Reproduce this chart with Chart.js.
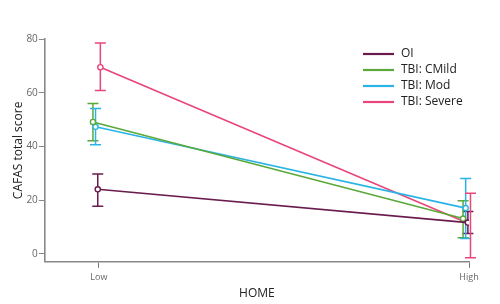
<!DOCTYPE html>
<html>
<head>
<meta charset="utf-8">
<script src="https://cdn.jsdelivr.net/npm/chart.js@4"></script>
<style>
  html, body { margin: 0; padding: 0; background: #fff; }
  #wrap { width: 500px; height: 304px; }
</style>
</head>
<body>
<div id="wrap"><canvas id="c"></canvas></div>
<script>
// categories on the x axis (HOME)
const categories = ['Low', 'High'];
const groups = ['OI', 'TBI: CMild', 'TBI: Mod', 'TBI: Severe'];

// means and error-bar ends, one value per category
const oiMean     = [24, 11.6];
const oiLow      = [17.7, 7.5];
const oiHigh     = [29.7, 15.7];

const mildMean   = [49.1, 13.1];
const mildLow    = [42.1, 6];
const mildHigh   = [56, 19.7];

const modMean    = [47.3, 17];
const modLow     = [40.6, 5.7];
const modHigh    = [54.1, 28];

const severeMean = [69.5, 11];
const severeLow  = [60.8, -1.5];
const severeHigh = [78.5, 22.5];

const yTicks = [0, 20, 40, 60, 80];

const colors = ['#6a1b4d', '#5aa83a', '#2ab4e6', '#e8457a'];
const dodge  = [-0.003, -0.016, -0.009, 0.004]; // small horizontal shift per group

const means = [oiMean, mildMean, modMean, severeMean];
const lows  = [oiLow, mildLow, modLow, severeLow];
const highs = [oiHigh, mildHigh, modHigh, severeHigh];

const FONT = '"Open Sans", "Noto Sans", sans-serif';

const datasets = groups.map((g, i) => ({
  label: g,
  data: categories.map((_, k) => ({ x: k + dodge[i], y: means[i][k], lo: lows[i][k], hi: highs[i][k] })),
  borderColor: colors[i],
  backgroundColor: '#fff',
  borderWidth: 1.6,
  pointRadius: 2.6,
  pointBorderWidth: 1.4,
  pointBackgroundColor: '#fff',
  pointBorderColor: colors[i],
  showLine: true,
  tension: 0
}));

// error bars, drawn under the lines and markers
const errorBars = {
  id: 'errorBars',
  beforeDatasetsDraw(chart) {
    const { ctx, scales: { x, y } } = chart;
    ctx.save();
    chart.data.datasets.forEach((ds) => {
      ctx.strokeStyle = ds.borderColor;
      ctx.lineWidth = 1.5;
      ds.data.forEach(p => {
        const px = x.getPixelForValue(p.x);
        const top = y.getPixelForValue(p.hi);
        const bot = y.getPixelForValue(p.lo);
        const cap = 5.5;
        ctx.beginPath();
        ctx.moveTo(px, top); ctx.lineTo(px, bot);
        ctx.moveTo(px - cap, top); ctx.lineTo(px + cap, top);
        ctx.moveTo(px - cap, bot); ctx.lineTo(px + cap, bot);
        ctx.stroke();
      });
    });
    ctx.restore();
  }
};

// legend drawn inside the plot area, top right
const innerLegend = {
  id: 'innerLegend',
  afterDraw(chart) {
    const { ctx } = chart;
    ctx.save();
    ctx.font = '12px ' + FONT;
    ctx.textBaseline = 'middle';
    chart.data.datasets.forEach((ds, i) => {
      const yy = 54 + i * 16;
      ctx.strokeStyle = ds.borderColor;
      ctx.lineWidth = 2.2;
      ctx.beginPath();
      ctx.moveTo(363, yy); ctx.lineTo(394, yy);
      ctx.stroke();
      ctx.fillStyle = '#222';
      ctx.fillText(ds.label, 401, yy);
    });
    ctx.restore();
  }
};

new Chart(document.getElementById('c'), {
  type: 'scatter',
  data: { datasets },
  options: {
    responsive: true,
    maintainAspectRatio: false,
    animation: false,
    layout: { padding: { top: 39, right: 31, left: 11, bottom: 0 } },
    plugins: {
      legend: { display: false },
      tooltip: { enabled: false }
    },
    scales: {
      x: {
        type: 'linear',
        min: -0.146,
        max: 1,
        afterBuildTicks: s => { s.ticks = categories.map((_, k) => ({ value: k })); },
        ticks: {
          callback: v => categories[v],
          color: '#666',
          font: { family: FONT, size: 9 },
          padding: 4,
          maxRotation: 0
        },
        grid: { drawOnChartArea: false, drawTicks: true, tickLength: 6, color: '#777', lineWidth: 1 },
        border: { display: true, color: '#888', width: 1.6 },
        title: { display: true, text: 'HOME', color: '#222', font: { family: FONT, size: 12 }, padding: { top: 0, bottom: 3 } }
      },
      y: {
        min: -3,
        max: 80,
        afterBuildTicks: s => { s.ticks = yTicks.map(v => ({ value: v })); },
        ticks: {
          color: '#666',
          font: { family: FONT, size: 10 },
          padding: 1
        },
        grid: { drawOnChartArea: false, drawTicks: true, tickLength: 6, color: '#888', lineWidth: 1 },
        border: { display: true, color: '#888', width: 1.6 },
        title: { display: true, text: 'CAFAS total score', color: '#222', font: { family: FONT, size: 12 }, padding: { top: 0, bottom: 0 } }
      }
    }
  },
  plugins: [errorBars, innerLegend]
});
</script>
</body>
</html>
